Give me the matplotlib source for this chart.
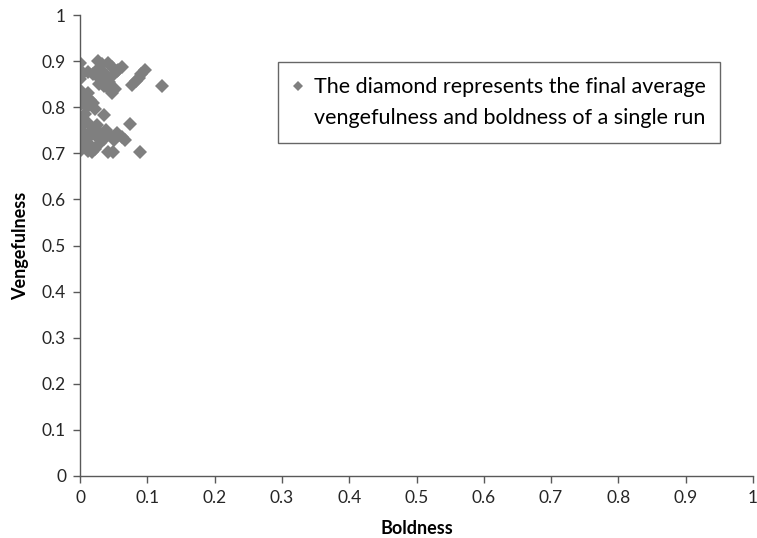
import matplotlib.pyplot as plt
from matplotlib.lines import Line2D

plt.rcParams['font.family'] = ['Lato', 'DejaVu Sans']

# final average boldness / vengefulness of each run
boldness = [0.0, 0.027, 0.032, 0.041, 0.048, 0.062, 0.057, 0.096, 0.091, 0.087, 0.083, 0.078, 0.122,
            0.0, 0.0, 0.005, 0.012, 0.020, 0.025, 0.035, 0.040, 0.050, 0.055, 0.030, 0.028, 0.035,
            0.043, 0.045, 0.048, 0.052,
            0.0, 0.003, 0.0, 0.008, 0.012, 0.015, 0.020, 0.005, 0.0, 0.010, 0.022,
            0.035, 0.007, 0.0, 0.003, 0.012, 0.025, 0.020, 0.074, 0.0, 0.008, 0.015, 0.030, 0.039,
            0.045, 0.055, 0.062, 0.067, 0.050, 0.035, 0.025, 0.010, 0.0, 0.0, 0.005, 0.015, 0.012,
            0.018, 0.022, 0.042, 0.049, 0.089, 0.030, 0.0]
vengefulness = [0.895, 0.900, 0.893, 0.895, 0.888, 0.888, 0.880, 0.880, 0.872, 0.864, 0.856, 0.848, 0.847,
                0.870, 0.862, 0.875, 0.877, 0.872, 0.880, 0.875, 0.868, 0.872, 0.878, 0.862, 0.850, 0.845,
                0.855, 0.838, 0.830, 0.840,
                0.838, 0.830, 0.825, 0.822, 0.830, 0.815, 0.810, 0.812, 0.805, 0.800, 0.797,
                0.783, 0.786, 0.772, 0.760, 0.765, 0.761, 0.750, 0.764, 0.750, 0.742, 0.745, 0.745, 0.750,
                0.740, 0.745, 0.735, 0.729, 0.728, 0.730, 0.735, 0.730, 0.728, 0.715, 0.720, 0.718, 0.705,
                0.703, 0.710, 0.703, 0.703, 0.703, 0.722, 0.705]

ticks = [0, 0.1, 0.2, 0.3, 0.4, 0.5, 0.6, 0.7, 0.8, 0.9, 1]
tick_labels = ['0', '0.1', '0.2', '0.3', '0.4', '0.5', '0.6', '0.7', '0.8', '0.9', '1']

fig = plt.figure(figsize=(7.57, 5.38), dpi=100)
ax = fig.add_axes([80 / 757, 1 - 476 / 538, 673 / 757, 461 / 538])

pts, = ax.plot(boldness, vengefulness, linestyle='none', marker='D', markersize=7,
               color='#7f7f7f', markeredgewidth=0)

ax.set_xlim(0, 1)
ax.set_ylim(0, 1)
ax.set_xticks(ticks)
ax.set_xticklabels(tick_labels)
ax.set_yticks(ticks)
ax.set_yticklabels(tick_labels)
ax.tick_params(direction='out', length=5, width=1, color='#595959', labelsize=12.5,
               labelcolor='#262626', pad=5)
for s in ['top', 'right']:
    ax.spines[s].set_visible(False)
for s in ['left', 'bottom']:
    ax.spines[s].set_color('#595959')
    ax.spines[s].set_linewidth(1)

ax.set_xlabel('Boldness', fontsize=13, fontweight='bold', labelpad=10)
ax.set_ylabel('Vengefulness', fontsize=13, fontweight='bold', labelpad=9)

blank = Line2D([], [], linestyle='none')
leg = fig.legend([pts, blank],
                 ['The diamond represents the final average',
                  'vengefulness and boldness of a single run'],
                 loc='upper left', bbox_to_anchor=(278 / 757, 1 - 62 / 538),
                 borderaxespad=0, fontsize=15.5, frameon=True, fancybox=False,
                 labelspacing=0.5, handlelength=0.5, handletextpad=0.45, borderpad=0.7,
                 markerscale=0.75)
leg.get_frame().set_edgecolor('#404040')
leg.get_frame().set_linewidth(1)

plt.savefig('out.png', dpi=100)
